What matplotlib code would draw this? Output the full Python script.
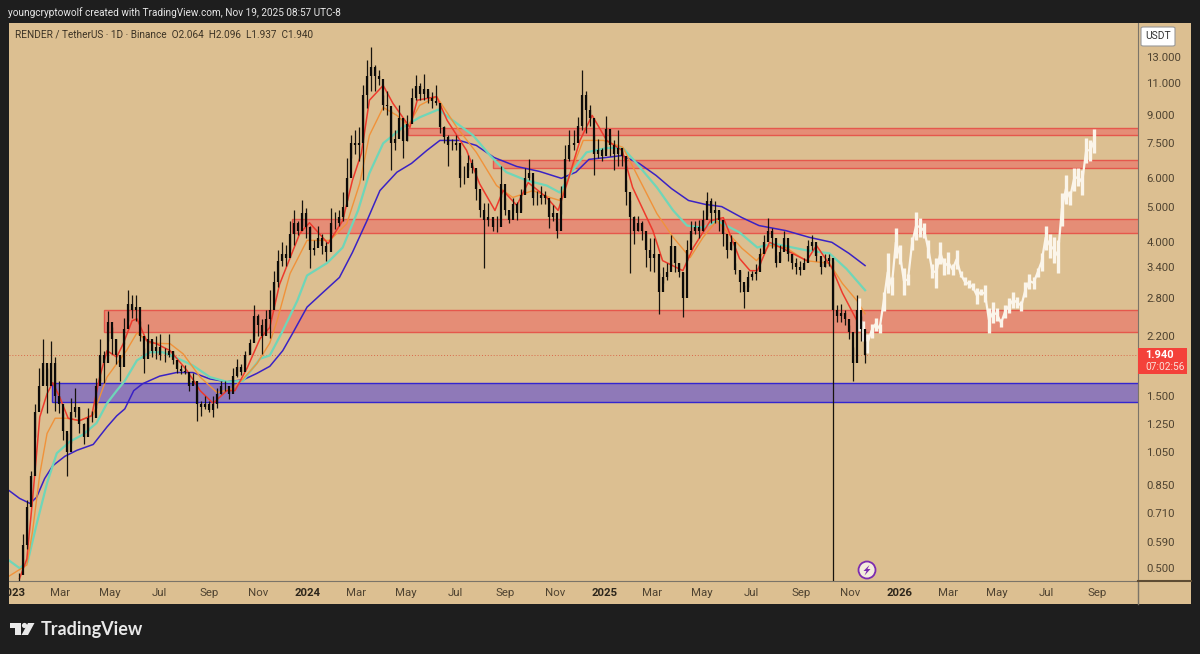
import numpy as np
import pandas as pd
import matplotlib
matplotlib.use("Agg")
import matplotlib.pyplot as plt
import matplotlib.dates as mdates
from matplotlib.patches import Rectangle, Polygon, Circle, FancyBboxPatch
from matplotlib.lines import Line2D
from matplotlib.transforms import Bbox

plt.rcParams['font.family'] = ['Roboto', 'DejaVu Sans']

# candles, one every 5 days, last one is Nov 19 2025
highs = [.485,.62,.77,.93,1.42,1.79,2.16,1.79,2.13,1.92,1.65,1.34,1.18,1.48,1.58,1.39,1.26,1.39,1.36,1.68,
    2.16,2.0,2.58,2.32,2.16,1.92,2.47,2.94,2.85,2.85,2.42,2.04,2.37,2.13,2.2,2.23,2.04,2.23,2.0,1.88,
    1.82,1.82,1.71,1.73,1.55,1.45,1.5,1.45,1.5,1.58,1.65,1.65,1.57,1.79,1.9,1.84,2.0,2.16,2.67,2.53,
    2.45,2.6,2.94,3.33,3.79,4.0,3.91,4.58,4.89,4.58,5.21,4.98,4.44,4.04,4.44,4.2,4.0,4.98,4.83,4.89,
    5.5,6.85,7.9,8.14,8.3,10.85,12.75,13.9,12.35,11.96,10.2,10.5,9.25,8.14,9.55,8.14,9.0,10.7,11.6,11.0,
    11.7,10.5,10.4,10.85,9.55,8.4,7.9,7.7,7.9,6.94,6.51,6.94,6.8,6.31,5.5,5.13,5.13,4.6,4.73,6.51,
    5.3,4.9,5.3,5.15,5.6,6.4,6.8,5.92,5.55,5.73,5.55,5.21,5.05,4.58,5.73,7.4,8.14,8.14,8.85,11.96,
    10.5,9.55,7.89,7.7,7.3,8.9,7.9,7.64,8.14,7.2,5.92,5.21,4.73,4.73,4.58,4.2,4.1,4.1,3.29,3.4,
    3.5,4.17,3.9,3.5,3.3,4.04,4.58,4.58,4.6,4.89,5.5,5.3,5.2,4.86,4.5,4.17,4.17,3.5,3.33,3.03,
    3.33,3.33,3.48,3.86,4.17,4.67,4.38,3.67,3.91,4.3,3.91,3.7,3.6,3.55,3.6,4.04,4.17,3.79,3.5,3.7,
    3.7,3.55,2.67,2.7,2.6,2.35,2.05,2.85,2.5,2.13]
lows = [.46,.52,.565,.77,1.15,1.45,1.62,1.34,1.62,1.36,1.34,1.13,.90,1.11,1.31,1.18,1.10,1.2,1.27,1.39,
    1.65,1.63,2.13,1.96,1.84,1.65,2.09,2.42,2.47,2.42,2.13,1.74,1.96,1.92,1.9,1.88,1.86,1.92,1.84,1.74,
    1.72,1.72,1.55,1.62,1.28,1.32,1.38,1.35,1.31,1.39,1.52,1.55,1.47,1.55,1.69,1.71,1.82,1.96,2.2,2.2,
    1.96,2.27,2.17,2.75,3.0,3.44,3.44,3.79,3.91,4.17,4.44,4.1,3.39,3.67,3.96,3.7,3.55,4.2,4.35,4.44,
    4.58,5.21,6.85,7.0,6.7,5.92,9.4,10.5,10.5,10.9,9.25,9.0,6.31,7.17,8.1,6.85,7.6,9.07,9.87,9.87,
    9.87,9.7,9.4,9.55,8.0,7.5,6.5,7.17,7.17,5.66,5.77,6.31,6.2,5.21,4.7,3.39,4.44,4.3,4.27,5.32,
    4.75,4.5,4.89,4.6,4.9,5.5,5.92,5.05,5.05,5.11,5.11,4.38,4.58,4.1,4.79,5.73,6.7,7.17,7.89,8.14,
    8.0,8.4,6.11,6.85,6.7,7.17,6.9,6.31,6.5,6.5,5.05,3.29,3.95,4.3,4.04,3.4,3.33,3.3,2.52,3.07,
    3.13,3.44,3.3,3.2,2.48,3.55,4.0,4.2,4.1,4.3,4.73,4.5,4.5,4.3,3.9,3.6,3.79,3.27,2.9,2.62,
    3.0,3.13,3.13,3.48,3.72,4.04,3.86,3.4,3.55,3.79,3.55,3.37,3.25,3.23,3.37,3.72,3.79,3.55,3.27,3.4,
    3.44,.40,2.4,2.4,2.35,2.15,1.65,2.27,2.13,1.85]
closes = [.48,.58,.74,.9,1.35,1.6,1.85,1.6,1.85,1.5,1.42,1.2,1.05,1.35,1.4,1.25,1.15,1.3,1.3,1.6,
    1.95,1.85,2.4,2.15,1.95,1.8,2.3,2.7,2.6,2.65,2.2,1.9,2.15,2.0,2.05,1.95,1.95,2.0,1.88,1.78,
    1.76,1.75,1.6,1.65,1.42,1.4,1.42,1.37,1.42,1.52,1.6,1.6,1.52,1.7,1.8,1.75,1.95,2.1,2.5,2.35,
    2.2,2.45,2.6,3.1,3.55,3.7,3.6,4.2,4.5,4.3,4.8,4.4,3.8,3.85,4.1,3.9,3.75,4.5,4.5,4.7,
    5.0,6.0,7.5,7.4,7.5,10.2,11.5,12.2,11.5,11.3,9.6,9.5,7.5,7.7,8.8,7.6,8.5,10.0,10.8,10.3,
    10.6,10.0,9.8,9.7,8.3,7.8,7.4,7.4,7.5,6.0,6.0,6.6,6.4,5.6,4.9,4.6,4.7,4.4,4.4,5.8,
    4.9,4.6,5.1,4.8,5.4,6.0,6.2,5.3,5.3,5.4,5.3,4.7,4.8,4.3,5.3,6.8,7.4,7.5,8.4,10.2,
    9.3,8.8,7.0,7.2,6.9,8.2,7.4,7.0,7.3,6.9,5.5,4.7,4.3,4.5,4.3,3.8,3.6,3.7,2.9,3.2,
    3.3,3.9,3.5,3.3,2.8,3.8,4.3,4.4,4.3,4.6,5.2,4.8,4.9,4.6,4.2,3.8,4.0,3.35,3.1,2.9,
    3.2,3.25,3.3,3.7,4.0,4.3,4.1,3.5,3.75,4.1,3.7,3.5,3.4,3.35,3.5,3.9,4.0,3.65,3.4,3.55,
    3.6,2.6,2.5,2.55,2.45,2.25,1.85,2.6,2.3,1.94]

# white projected path drawn on the chart
proj_highs = [2.8,2.42,2.23,2.37,2.47,2.37,2.9,3.72,3.19,4.36,3.91,3.39,3.27,4.12,4.83,4.67,4.5,4.04,3.48,3.6,
    3.99,3.62,3.74,3.48,3.79,3.33,3.19,3.13,3.07,2.99,2.97,3.03,2.63,2.72,2.62,2.45,2.67,2.79,2.9,2.81,
    2.75,3.09,3.27,3.19,3.39,3.72,4.44,4.22,4.14,4.04,5.45,6.11,5.55,6.39,6.39,6.31,7.74,7.64,8.2]
proj_lows = [2.27,2.13,1.97,2.17,2.27,2.24,2.58,2.88,2.85,3.62,3.48,2.85,3.03,3.79,4.04,4.12,4.09,3.62,3.17,2.99,
    3.48,3.23,3.27,3.23,3.37,3.19,3.03,2.99,2.94,2.7,2.85,2.72,2.24,2.38,2.42,2.32,2.47,2.55,2.63,2.62,
    2.58,2.81,2.97,2.97,3.19,3.33,3.79,3.62,3.5,3.28,4.44,5.11,5.05,5.55,5.73,5.38,6.6,6.72,7.03]

# moving averages: days since 2023-01-01, price
blue_days = [-4,9,22,30,40,50,65,80,100,117,129,139,150,161,182,203,223,244,265,285,302,318,334,346,364,383,404,420,438,454,475,493,512,528,552,573,595,623,651,678,696,712,733,753,774,795,814,835,856,876,901,922,955,984,1012,1033,1053]
blue_vals = [.82,.78,.755,.785,.885,.96,1.02,1.06,1.10,1.23,1.32,1.38,1.55,1.62,1.70,1.74,1.74,1.67,1.64,1.66,1.73,1.81,2.0,2.23,2.64,2.89,3.19,3.74,4.58,5.55,6.24,6.6,7.17,7.64,7.64,7.4,6.85,6.47,6.27,6.0,6.24,6.77,6.85,6.94,6.6,6.11,5.62,5.21,5.08,5.01,4.67,4.44,4.30,4.12,3.99,3.72,3.44]
teal_days = [-4,9,19,30,43,55,71,87,104,117,129,139,154,170,186,203,223,244,265,285,306,318,334,352,364,389,408,427,441,458,482,503,526,544,569,590,610,635,660,676,692,709,734,754,771,796,816,833,853,870,898,920,939,981,1009,1030,1053]
teal_vals = [.525,.50,.52,.66,.86,1.04,1.12,1.17,1.26,1.43,1.55,1.65,1.88,1.98,1.98,1.91,1.82,1.69,1.64,1.65,1.90,1.94,2.27,2.75,3.23,3.5,3.86,4.89,6.2,7.5,8.3,8.85,9.3,8.68,7.89,6.94,6.24,5.92,5.73,5.48,6.31,7.08,7.28,7.28,6.6,5.66,4.89,4.44,4.38,4.58,4.25,3.86,3.96,3.79,3.72,3.37,2.94]
orange_days = [-4,18,25,34,43,53,67,83,100,117,129,141,154,170,195,211,232,253,272,285,302,318,327,343,364,392,413,429,441,458,475,489,503,524,549,573,598,618,643,664,676,689,705,730,754,775,796,816,837,853,870,901,919,935,955,980,1009,1025,1043,1053]
orange_vals = [.475,.51,.63,.91,1.18,1.30,1.30,1.28,1.33,1.69,1.84,2.0,2.24,2.10,2.09,1.96,1.69,1.53,1.57,1.67,1.84,2.10,2.42,3.27,4.04,4.04,4.49,5.80,7.89,9.43,8.96,8.4,9.55,10.1,8.3,7.08,5.73,5.31,5.55,5.31,5.21,6.19,7.64,7.64,7.31,5.92,4.79,4.12,3.62,4.12,4.58,3.84,3.55,3.91,3.86,3.55,3.49,3.07,2.75,2.53]
red_days = [9,18,25,34,43,50,59,69,83,98,108,117,129,137,148,154,166,178,195,216,232,248,265,275,290,306,318,330,355,367,390,408,420,431,441,458,470,491,500,524,537,561,577,596,606,623,637,660,674,685,701,716,734,753,766,791,803,828,841,862,878,898,911,920,935,951,981,993,1012,1025,1043,1053]
red_vals = [.468,.53,.77,1.31,1.52,1.63,1.48,1.30,1.28,1.32,1.69,2.0,1.92,2.09,2.42,2.45,2.13,2.09,2.0,1.76,1.55,1.43,1.55,1.55,1.79,2.16,2.32,3.05,4.22,4.52,3.96,4.58,5.92,7.03,9.87,10.85,9.68,8.3,9.87,10.1,8.68,7.17,5.8,4.89,5.55,5.05,5.84,5.31,4.89,5.8,7.64,8.96,7.64,7.17,5.66,4.30,3.55,3.33,3.86,4.58,4.67,3.6,3.33,3.33,3.99,3.84,3.55,3.91,3.39,2.89,2.42,2.16]

# zones: start date, top, bottom
red_zones = [("2024-05-04", 8.29, 7.9), ("2024-08-16", 6.76, 6.39), ("2023-12-12", 4.64, 4.24), ("2023-04-24", 2.6, 2.25)]
blue_zone = ("2023-02-19", 1.63, 1.44)
last_price = 1.94

price_ticks = [13, 11, 9, 7.5, 6, 5, 4, 3.4, 2.8, 2.2, 1.5, 1.25, 1.05, 0.85, 0.71, 0.59, 0.5]
time_ticks = ["2023-01-01","2023-03-01","2023-05-01","2023-07-01","2023-09-01","2023-11-01","2024-01-01","2024-03-01","2024-05-01","2024-07-01","2024-09-01","2024-11-01",
    "2025-01-01","2025-03-01","2025-05-01","2025-07-01","2025-09-01","2025-11-01","2026-01-01","2026-03-01","2026-05-01","2026-07-01","2026-09-01"]
time_labels = ["2023","Mar","May","Jul","Sep","Nov","2024","Mar","May","Jul","Sep","Nov","2025","Mar","May","Jul","Sep","Nov","2026","Mar","May","Jul","Sep"]

BG = "#dcbf91"
DARK = "#1e1e1e"
AXTXT = "#4f4331"
W, H = 1200, 654

fig = plt.figure(figsize=(W/100, H/100), dpi=100, facecolor=DARK)

def px(x, y):
    return x/W, 1 - y/H

def day(d):
    return pd.Timestamp("2023-01-01") + pd.to_timedelta(np.asarray(d), unit="D")

# tan panel behind chart and both axis strips
fig.add_artist(Rectangle(px(9, 604), 1182/W, 581/H, transform=fig.transFigure, fc=BG, ec="none", zorder=-5))

ax = fig.add_axes([9/W, 1-581/H, 1129/W, 558/H], facecolor=BG)
ax.set_yscale("log")

for start, top, bot in red_zones:
    x0 = mdates.date2num(pd.Timestamp(start))
    ax.add_patch(Rectangle((x0, bot), 5000, top-bot, fc="#e58d76", ec="#e5574c", lw=1.0, zorder=1))
x0 = mdates.date2num(pd.Timestamp(blue_zone[0]))
ax.add_patch(Rectangle((x0, blue_zone[2]), 5000, blue_zone[1]-blue_zone[2], fc="#8f79b8", ec="#3325cf", lw=1.0, zorder=1))

ax.axhline(last_price, color="#d9694a", lw=0.7, ls=(0, (1, 2)), zorder=1.5)

dates = pd.date_range(end="2025-11-19", periods=len(highs), freq="5D")
opens = [closes[0]] + closes[:-1]
proj_dates = pd.date_range("2025-11-12", periods=len(proj_highs), freq="5D")

# white path: bars plus a line so that neighbouring bars join up
ax.vlines(proj_dates, proj_lows, proj_highs, color="#fbf5ea", lw=2.4, zorder=3)
ax.plot(proj_dates, (np.array(proj_highs)+np.array(proj_lows))/2, color="#fbf5ea", lw=1.6, zorder=3)

ax.plot(day(blue_days), blue_vals, color="#3a22c4", lw=1.1, zorder=2)
ax.plot(day(teal_days), teal_vals, color="#6fd6b8", lw=1.6, zorder=2)
ax.plot(day(orange_days), orange_vals, color="#f0923a", lw=1.0, zorder=2)
ax.plot(day(red_days), red_vals, color="#ee3a2c", lw=1.1, zorder=2)

ax.vlines(dates, lows, highs, color="#17130d", lw=0.9, zorder=4)
ax.vlines(dates, opens, closes, color="#0c0a08", lw=1.6, zorder=4)

ax.set_xlim(mdates.date2num(pd.Timestamp("2022-12-28")), mdates.date2num(day(1390)))
ax.set_ylim(0.4606, 16.15)

ax.yaxis.tick_right()
ax.set_yticks(price_ticks)
ax.set_yticklabels([f"{p:.3f}" for p in price_ticks])
ax.yaxis.set_minor_locator(matplotlib.ticker.NullLocator())
ax.tick_params(axis="y", length=0, pad=6, labelsize=8.2, labelcolor=AXTXT)

ax.set_xticks(mdates.date2num(pd.to_datetime(time_ticks)))
ax.set_xticklabels(time_labels)
ax.tick_params(axis="x", length=0, pad=5, labelsize=8.2, labelcolor=AXTXT)
for lab in ax.get_xticklabels():
    if lab.get_text().isdigit():
        lab.set_fontweight("bold")
        lab.set_color("#2d261b")
ax.get_xticklabels()[0].set_clip_box(Bbox.from_extents(9, 0, 1200, 654))
ax.get_xticklabels()[0].set_clip_on(True)

for s in ["top", "left"]:
    ax.spines[s].set_visible(False)
ax.spines["right"].set_color("#7b7468")
ax.spines["bottom"].set_color("#7b7468")

# axis strip lines
fig.add_artist(Line2D([1138/W, 1138/W], [1-604/H, 1-581/H], color="#7b7468", lw=1))
fig.add_artist(Line2D([1138/W, 1191/W], [1-581/H, 1-581/H], color="#5e4c33", lw=1.5))

# header texts
fig.text(*px(8, 13), "youngcryptowolf created with TradingView.com, Nov 19, 2025 08:57 UTC-8",
         color="#e8e8e8", fontsize=7.2, va="center")
fig.text(*px(15, 35), "RENDER / TetherUS · 1D · Binance  O2.064  H2.096  L1.937  C1.940",
         color="#3c3325", fontsize=7.2, va="center")

# USDT button
fig.add_artist(FancyBboxPatch(px(1141, 46), 34/W, 19/H, boxstyle="round,pad=0,rounding_size=0.002",
                              transform=fig.transFigure, fc="white", ec="#999999", lw=0.8))
fig.text(*px(1158, 36), "USDT", color="#333333", fontsize=7.4, ha="center", va="center")

# last price tag
fig.add_artist(Rectangle(px(1138, 374), 49/W, 26/H, transform=fig.transFigure, fc="#f4413a", ec="none"))
fig.text(*px(1145, 355), "1.940", color="white", fontsize=8, fontweight="bold", va="center")
fig.text(*px(1145, 367), "07:02:56", color="#fbe0d8", fontsize=7.3, va="center")

# lightning marker
ax_icon = fig.add_axes([0, 0, 1, 1], facecolor="none")
ax_icon.set_xlim(0, W)
ax_icon.set_ylim(H, 0)
ax_icon.axis("off")
ax_icon.add_patch(Circle((867, 570), 8.5, fc="#f4ecdd", ec="#7d2bb0", lw=1.3))
ax_icon.add_patch(Polygon([(869.5, 565), (863.5, 571), (866.5, 571), (864.5, 575.5), (870.5, 569), (867.5, 569)],
                          fc="#7d2bb0", ec="none"))

# TradingView logo
logo_col = "#e9e9e9"
ax_icon.add_patch(Polygon([(10, 623), (21, 623), (21, 635), (15, 635), (15, 628), (10, 628)], fc=logo_col, ec="none"))
ax_icon.add_patch(Circle((24.5, 625.5), 2.6, fc=logo_col, ec="none"))
ax_icon.add_patch(Polygon([(28, 623), (34.5, 623), (28, 635), (21.5, 635)], fc=logo_col, ec="none"))
fig.text(*px(41, 629), "TradingView", color=logo_col, fontsize=13, family="Lato", fontweight="bold", va="center")

fig.savefig("out.png", dpi=100, facecolor=DARK)
